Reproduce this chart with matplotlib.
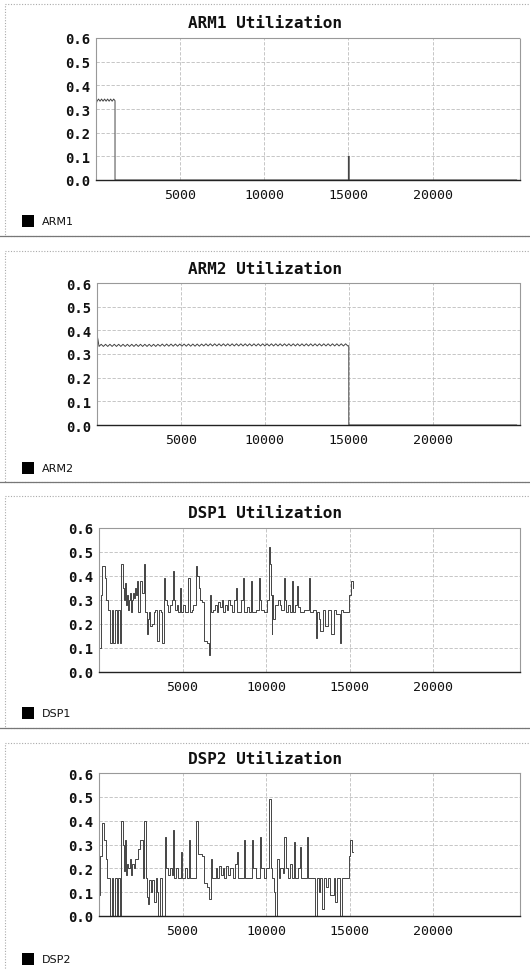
import matplotlib
matplotlib.use("Agg")
import matplotlib.pyplot as plt
from matplotlib.patches import Rectangle
from matplotlib.lines import Line2D

W, H = 530, 970

# ---------------- data ----------------
titles = ["ARM1 Utilization", "ARM2 Utilization", "DSP1 Utilization", "DSP2 Utilization"]
series_names = ["ARM1", "ARM2", "DSP1", "DSP2"]
x_ticks = [5000, 10000, 15000, 20000]
x_tick_labels = ["5000", "10000", "15000", "20000"]
y_ticks = [0.0, 0.1, 0.2, 0.3, 0.4, 0.5, 0.6]
y_tick_labels = ["0.0", "0.1", "0.2", "0.3", "0.4", "0.5", "0.6"]

arm1_t = [0, 60, 150, 240, 330, 420, 510, 600, 690, 780, 870, 960, 1050, 1130, 1130, 15000, 15000, 15050, 15050, 25000]
arm1_v = [0.32, 0.333, 0.342, 0.333, 0.342, 0.333, 0.342, 0.333, 0.342, 0.333, 0.342, 0.333, 0.342, 0.335, 0.0, 0.0, 0.10, 0.10, 0.0, 0.0]

arm2_t = [0, 60, 120, 250, 380, 510, 640, 770, 900, 1030,
          1160, 1290, 1420, 1550, 1680, 1810, 1940, 2070, 2200, 2330,
          2460, 2590, 2720, 2850, 2980, 3110, 3240, 3370, 3500, 3630,
          3760, 3890, 4020, 4150, 4280, 4410, 4540, 4670, 4800, 4930,
          5060, 5190, 5320, 5450, 5580, 5710, 5840, 5970, 6100, 6230,
          6360, 6490, 6620, 6750, 6880, 7010, 7140, 7270, 7400, 7530,
          7660, 7790, 7920, 8050, 8180, 8310, 8440, 8570, 8700, 8830,
          8960, 9090, 9220, 9350, 9480, 9610, 9740, 9870, 10000, 10130,
          10260, 10390, 10520, 10650, 10780, 10910, 11040, 11170, 11300, 11430,
          11560, 11690, 11820, 11950, 12080, 12210, 12340, 12470, 12600, 12730,
          12860, 12990, 13120, 13250, 13380, 13510, 13640, 13770, 13900, 14030,
          14160, 14290, 14420, 14550, 14680, 14810, 14940, 15000, 15000, 25000]
arm2_v = [0.38, 0.36, 0.332, 0.341, 0.332, 0.341, 0.332, 0.341, 0.332, 0.341,
          0.332, 0.341, 0.332, 0.341, 0.332, 0.341, 0.332, 0.341, 0.332, 0.341,
          0.332, 0.341, 0.332, 0.341, 0.332, 0.341, 0.332, 0.341, 0.332, 0.341,
          0.333, 0.342, 0.333, 0.342, 0.333, 0.342, 0.333, 0.342, 0.333, 0.342,
          0.333, 0.342, 0.333, 0.342, 0.333, 0.342, 0.333, 0.342, 0.333, 0.342,
          0.334, 0.343, 0.334, 0.343, 0.334, 0.343, 0.334, 0.343, 0.334, 0.343,
          0.334, 0.343, 0.334, 0.343, 0.334, 0.343, 0.334, 0.343, 0.334, 0.343,
          0.334, 0.343, 0.334, 0.343, 0.334, 0.343, 0.334, 0.343, 0.334, 0.343,
          0.334, 0.343, 0.334, 0.343, 0.334, 0.343, 0.334, 0.343, 0.334, 0.343,
          0.334, 0.343, 0.334, 0.343, 0.334, 0.343, 0.334, 0.343, 0.334, 0.343,
          0.334, 0.343, 0.334, 0.343, 0.334, 0.343, 0.334, 0.343, 0.334, 0.343,
          0.334, 0.343, 0.334, 0.343, 0.334, 0.343, 0.334, 0.335, 0.0, 0.0]

dsp1_t = [0, 120, 200, 330, 420, 560, 650, 750, 850, 950, 1050, 1150, 1250,
          1340, 1420, 1480, 1540, 1600, 1660, 1720, 1780, 1840, 1900, 1960, 2020, 2080, 2140, 2200,
          2280, 2360, 2450, 2560, 2680, 2780, 2860, 2920, 2980, 3060, 3200, 3300, 3380, 3460, 3600, 3700,
          3800, 3900, 3960, 4050, 4150, 4250, 4350, 4420, 4480, 4560, 4650, 4750, 4850, 4910, 5050, 5150,
          5350, 5420, 5550, 5650, 5800, 5880, 5960, 6040, 6150, 6300, 6480, 6560, 6640, 6720, 6850, 6950,
          7050, 7150, 7250, 7350, 7450, 7550, 7650, 7750, 7850, 7950, 8100, 8200, 8270, 8500, 8600, 8680,
          8850, 9000, 9080, 9160, 9400, 9550, 9620, 9720, 9900, 10050, 10180, 10240, 10300, 10340, 10380,
          10440, 10560, 10700, 10820, 10900, 11050, 11110, 11200, 11300, 11420, 11550, 11610, 11750, 11880,
          11940, 12050, 12250, 12550, 12620, 12800, 12980, 13050, 13150, 13250, 13400, 13550, 13700, 13900,
          14050, 14200, 14400, 14500, 14600, 14950, 15080, 15180, 15230]
dsp1_v = [0.10, 0.32, 0.44, 0.39, 0.30, 0.26, 0.12, 0.26, 0.12, 0.26, 0.12, 0.26, 0.12,
          0.45, 0.35, 0.30, 0.37, 0.28, 0.32, 0.26, 0.30, 0.33, 0.25, 0.30, 0.33, 0.31, 0.35, 0.32,
          0.38, 0.25, 0.38, 0.33, 0.45, 0.25, 0.16, 0.22, 0.25, 0.19, 0.20, 0.25, 0.26, 0.13, 0.26, 0.25,
          0.12, 0.39, 0.30, 0.28, 0.25, 0.28, 0.30, 0.42, 0.30, 0.26, 0.28, 0.25, 0.35, 0.25, 0.28, 0.25,
          0.39, 0.25, 0.26, 0.28, 0.44, 0.40, 0.35, 0.30, 0.29, 0.13, 0.12, 0.07, 0.32, 0.25, 0.26, 0.28,
          0.25, 0.29, 0.27, 0.30, 0.25, 0.28, 0.26, 0.30, 0.28, 0.25, 0.30, 0.35, 0.25, 0.30, 0.39, 0.25,
          0.27, 0.25, 0.38, 0.25, 0.26, 0.39, 0.30, 0.26, 0.25, 0.30, 0.52, 0.45, 0.32, 0.16, 0.32,
          0.22, 0.28, 0.30, 0.28, 0.26, 0.39, 0.30, 0.25, 0.28, 0.25, 0.38, 0.25, 0.28, 0.36,
          0.27, 0.25, 0.26, 0.39, 0.25, 0.26, 0.14, 0.25, 0.22, 0.17, 0.26, 0.19, 0.26, 0.16,
          0.26, 0.24, 0.12, 0.26, 0.25, 0.32, 0.38, 0.35, 0.35]

dsp2_t = [0, 80, 150, 300, 400, 500, 650, 750, 850, 950, 1050, 1150, 1250,
          1340, 1420, 1480, 1540, 1600, 1680, 1760, 1840, 1920, 2000, 2080, 2160, 2250, 2330,
          2450, 2650, 2720, 2800, 2880, 2950, 3000, 3100, 3200, 3300, 3400, 3480, 3560, 3650, 3800, 3930,
          4000, 4150, 4250, 4350, 4420, 4480, 4600, 4700, 4880, 4950, 5150, 5250, 5380, 5440, 5800, 5900,
          6000, 6150, 6300, 6450, 6600, 6700, 6780, 7000, 7080, 7200, 7300, 7400, 7500, 7600, 7700, 7850,
          8000, 8150, 8250, 8330, 8650, 8720, 9150, 9220, 9400, 9650, 9720, 9850, 10000, 10200, 10280,
          10350, 10450, 10550, 10650, 10750, 10850, 11000, 11100, 11170, 11300, 11450, 11550, 11650, 11720,
          11900, 12050, 12120, 12450, 12520, 12950, 13030, 13150, 13250, 13350, 13450, 13600, 13700, 13850,
          14050, 14150, 14250, 14450, 14550, 14950, 15050, 15150, 15200]
dsp2_v = [0.09, 0.25, 0.39, 0.32, 0.24, 0.16, 0.0, 0.16, 0.0, 0.16, 0.0, 0.16, 0.0,
          0.40, 0.30, 0.19, 0.32, 0.17, 0.22, 0.20, 0.24, 0.17, 0.22, 0.20, 0.24, 0.24, 0.28,
          0.32, 0.16, 0.40, 0.16, 0.08, 0.05, 0.15, 0.10, 0.15, 0.06, 0.16, 0.10, 0.0, 0.16, 0.0, 0.33,
          0.20, 0.17, 0.20, 0.17, 0.36, 0.16, 0.20, 0.16, 0.27, 0.16, 0.20, 0.16, 0.32, 0.16, 0.40, 0.26,
          0.26, 0.25, 0.14, 0.12, 0.07, 0.24, 0.16, 0.20, 0.16, 0.21, 0.17, 0.20, 0.16, 0.21, 0.17, 0.20,
          0.16, 0.22, 0.27, 0.16, 0.32, 0.16, 0.32, 0.20, 0.16, 0.33, 0.20, 0.16, 0.20, 0.49, 0.20,
          0.16, 0.10, 0.0, 0.24, 0.16, 0.20, 0.18, 0.33, 0.20, 0.16, 0.22, 0.16, 0.31, 0.16,
          0.20, 0.29, 0.16, 0.33, 0.16, 0.0, 0.16, 0.10, 0.16, 0.03, 0.16, 0.12, 0.16, 0.09,
          0.16, 0.06, 0.16, 0.0, 0.16, 0.25, 0.32, 0.27, 0.27]

series_t = [arm1_t, arm2_t, dsp1_t, dsp2_t]
series_v = [arm1_v, arm2_v, dsp1_v, dsp2_v]
series_style = ["default", "default", "steps-post", "steps-post"]

# ---------------- layout (pixels) ----------------
axes_px = [(96, 39, 520, 181), (97, 284, 520, 426), (99, 529, 520, 673), (99, 774, 520, 917)]
title_y = [23, 269, 514, 760]
legend_y = [222, 469, 714, 960]
panel_top = [5, 252, 497, 744]
panel_bot = [237, 483, 729, 975]

MONO = "DejaVu Sans Mono"

fig = plt.figure(figsize=(W / 100, H / 100), dpi=100)
fig.patch.set_facecolor("white")

def fx(x):
    return x / W

def fy(y):
    return 1 - y / H

for i in range(4):
    # panel frame
    fig.patches.append(Rectangle((fx(5), fy(panel_bot[i])), fx(540) - fx(5), fy(panel_top[i]) - fy(panel_bot[i]),
                                 transform=fig.transFigure, fill=False, edgecolor="#aaaaaa",
                                 linestyle=(0, (1, 1.5)), linewidth=0.8))
    if i < 3:
        fig.lines.append(Line2D([0, 1], [fy(panel_bot[i]), fy(panel_bot[i])], transform=fig.transFigure,
                                color="#777777", linewidth=0.9))

    l, t, r, b = axes_px[i]
    ax = fig.add_axes([fx(l), fy(b), fx(r) - fx(l), fy(t) - fy(b)])
    ax.plot(series_t[i], series_v[i], drawstyle=series_style[i], color="#444444", linewidth=0.7)
    ax.set_xlim(0, 25200)
    ax.set_ylim(0, 0.6)
    ax.set_xticks(x_ticks)
    ax.set_xticklabels(x_tick_labels, fontfamily=MONO, fontsize=9.5)
    ax.set_yticks(y_ticks)
    ax.set_yticklabels(y_tick_labels, fontfamily=MONO, fontsize=10, fontweight="bold")
    ax.tick_params(axis="x", length=0, pad=6, colors="#111111")
    ax.tick_params(axis="y", length=0, pad=4, colors="#111111")
    ax.grid(True, color="#bdbdbd", linestyle=(0, (4, 2)), linewidth=0.6)
    ax.set_axisbelow(True)
    for side in ["top", "left", "right"]:
        ax.spines[side].set_color("#999999")
        ax.spines[side].set_linestyle((0, (1, 1)))
        ax.spines[side].set_linewidth(0.8)
    ax.spines["bottom"].set_color("#222222")
    ax.spines["bottom"].set_linewidth(1.0)

    fig.text(0.5, fy(title_y[i]), titles[i], ha="center", va="center",
             fontfamily=MONO, fontweight="bold", fontsize=11.5, color="#111111")

    # legend
    fig.patches.append(Rectangle((fx(22), fy(legend_y[i] + 6)), fx(12), fy(0) - fy(12),
                                 transform=fig.transFigure, facecolor="black", edgecolor="none"))
    fig.text(fx(42), fy(legend_y[i]), series_names[i], ha="left", va="center",
             fontfamily="DejaVu Sans", fontsize=8, color="#111111")

fig.savefig("out.png", dpi=100)
